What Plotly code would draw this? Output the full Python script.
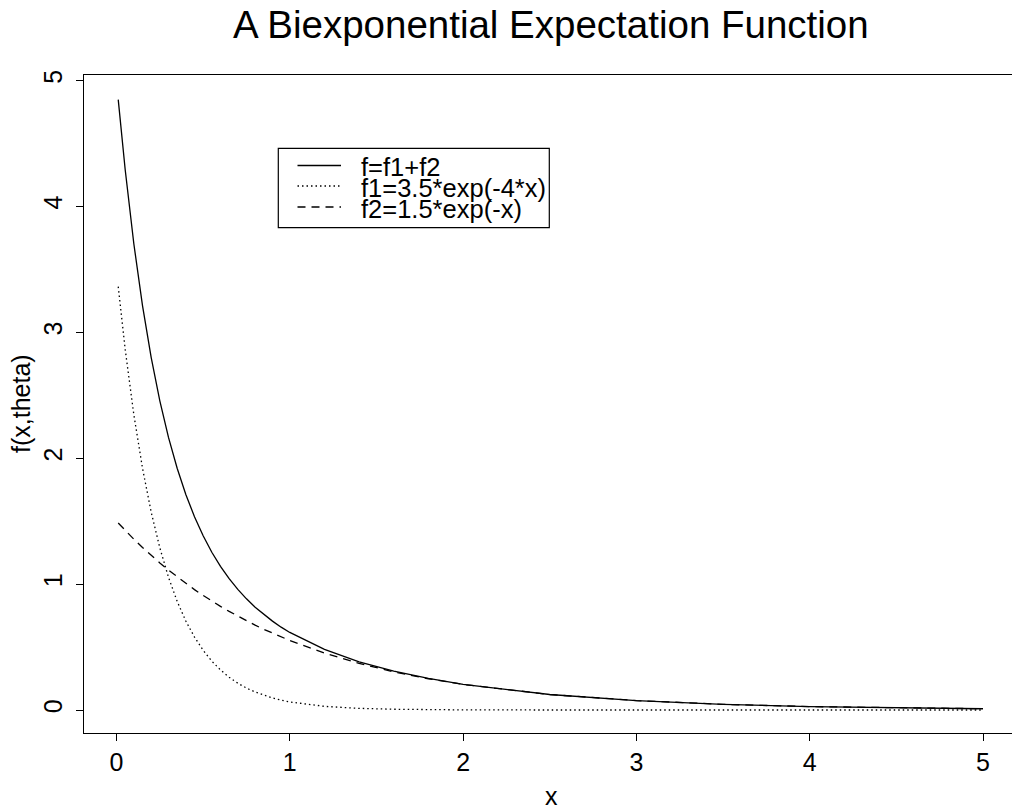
import plotly.graph_objects as go

# Values
x_vals = [0.01, 0.05, 0.10, 0.15, 0.20, 0.25, 0.30, 0.35, 0.40, 0.45, 0.50,
          0.55, 0.60, 0.65, 0.70, 0.75, 0.80, 0.85, 0.90, 0.95, 1.00,
          1.2, 1.4, 1.6, 1.8, 2.0, 2.5, 3.0, 3.5, 4.0, 4.5, 5.0]
f_vals = [4.848, 4.293, 3.703, 3.212, 2.801, 2.456, 2.165, 1.920, 1.712, 1.535, 1.384,
          1.253, 1.141, 1.043, 0.958, 0.883, 0.817, 0.758, 0.706, 0.658, 0.616,
          0.481, 0.383, 0.309, 0.251, 0.204, 0.123, 0.075, 0.045, 0.027, 0.017, 0.010]
f1_vals = [3.363, 2.866, 2.346, 1.921, 1.573, 1.288, 1.054, 0.863, 0.707, 0.579, 0.474,
           0.388, 0.318, 0.260, 0.213, 0.174, 0.143, 0.117, 0.096, 0.078, 0.064,
           0.029, 0.013, 0.006, 0.003, 0.001, 0.000, 0.000, 0.000, 0.000, 0.000, 0.000]
f2_vals = [1.485, 1.427, 1.357, 1.291, 1.228, 1.168, 1.111, 1.057, 1.005, 0.956, 0.910,
           0.865, 0.823, 0.783, 0.745, 0.709, 0.674, 0.641, 0.610, 0.580, 0.552,
           0.452, 0.370, 0.303, 0.248, 0.203, 0.123, 0.075, 0.045, 0.027, 0.017, 0.010]

tick_vals = [0, 1, 2, 3, 4, 5]
tick_text = ["0", "1", "2", "3", "4", "5"]
legend_labels = ["f=f1+f2", "f1=3.5*exp(-4*x)", "f2=1.5*exp(-x)"]
legend_dashes = ["solid", "1.5px,3px", "8px,6px"]

FONT = "Liberation Sans, Arial, Helvetica, sans-serif"
W, H = 1012, 810
L, R, T, B = 84, 0, 75, 77
PW, PH = W - L - R, H - T - B

def px(xp):
    return (xp - L) / PW

def py(yp):
    return (H - B - yp) / PH

fig = go.Figure()
for ys, dash, name in zip([f_vals, f1_vals, f2_vals], legend_dashes, legend_labels):
    fig.add_trace(go.Scatter(x=x_vals, y=ys, mode="lines", name=name,
                             line=dict(color="black", width=1.3, dash=dash),
                             showlegend=False, hoverinfo="skip"))

# manual legend (R-style box)
shapes = [dict(type="rect", xref="paper", yref="paper",
               x0=px(278.3), x1=px(549.3), y0=py(227.7), y1=py(148.3),
               line=dict(color="black", width=1.2), fillcolor="white", layer="above")]
annotations = []
row_y = [165.5, 186.0, 207.0]
for yy, dash, lab in zip(row_y, legend_dashes, legend_labels):
    shapes.append(dict(type="line", xref="paper", yref="paper",
                       x0=px(297.5), x1=px(341), y0=py(yy), y1=py(yy),
                       line=dict(color="black", width=1.3, dash=dash), layer="above"))
    annotations.append(dict(text=lab, xref="paper", yref="paper", x=px(359), y=py(yy + 1.5),
                            xanchor="left", yanchor="middle", showarrow=False,
                            font=dict(family=FONT, size=25.5, color="black")))

# title and axis titles
annotations.append(dict(text="A Biexponential Expectation Function", xref="paper", yref="paper",
                        x=px(550.5), y=py(24.5), xanchor="center", yanchor="middle",
                        showarrow=False, font=dict(family=FONT, size=38.5, color="black")))
annotations.append(dict(text="x", xref="paper", yref="paper",
                        x=px(551.7), y=py(796), xanchor="center", yanchor="middle",
                        showarrow=False, font=dict(family=FONT, size=25, color="black")))
annotations.append(dict(text="f(x,theta)", xref="paper", yref="paper",
                        x=px(21), y=py(404), xanchor="center", yanchor="middle", textangle=-90,
                        showarrow=False, font=dict(family=FONT, size=25, color="black")))

x0_px, x5_px = 116.5, 983.0
ux = (x5_px - x0_px) / 5
y0_px, y5_px = 710.0, 80.5
uy = (y0_px - y5_px) / 5

fig.update_layout(
    width=W, height=H,
    margin=dict(l=L, r=R, t=T, b=B, pad=0),
    paper_bgcolor="white", plot_bgcolor="white",
    font=dict(family=FONT, size=25, color="black"),
    shapes=shapes, annotations=annotations,
    xaxis=dict(range=[(L - x0_px) / ux, (W - R - x0_px) / ux],
               tickvals=tick_vals, ticktext=tick_text,
               ticks="outside", ticklen=7, tickwidth=1.2, tickcolor="black",
               showline=True, linecolor="black", linewidth=1.3, mirror=True,
               showgrid=False, zeroline=False, ticklabelstandoff=0,
               tickfont=dict(family=FONT, size=25, color="black")),
    yaxis=dict(range=[(y0_px - (H - B)) / uy, (y0_px - T) / uy],
               tickvals=tick_vals, ticktext=tick_text, tickangle=-90,
               ticks="outside", ticklen=7, tickwidth=1.2, tickcolor="black",
               showline=True, linecolor="black", linewidth=1.3, mirror=False,
               showgrid=False, zeroline=False, ticklabelstandoff=4,
               tickfont=dict(family=FONT, size=25, color="black")),
)

fig.write_html("out.html")
